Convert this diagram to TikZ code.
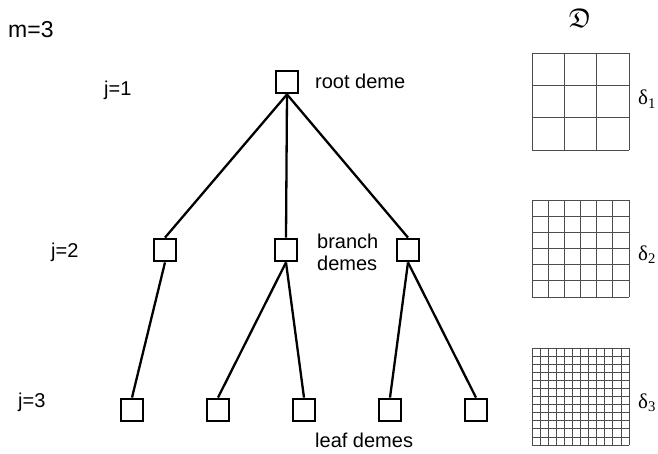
\documentclass[tikz,border=0pt]{standalone}
\usepackage{fontspec}
\usepackage{amssymb}
\setmainfont{Liberation Sans}
\newfontfamily\serifd{Liberation Serif}
\begin{document}
\begin{tikzpicture}[x=1pt,y=-1pt,
  deme/.style={draw,line width=2.3pt,minimum size=22.5pt,inner sep=0pt},
  edge/.style={line width=2.3pt},
  lbl/.style={inner sep=0pt,anchor=base west,font=\fontsize{20}{24}\selectfont},
  dlbl/.style={inner sep=0pt,anchor=base west,font=\serifd\fontsize{21}{24}\selectfont},
  gridline/.style={draw=black!70,line width=0.8pt}]
\useasboundingbox (0,0) rectangle (658,454);
% tree nodes
\node[deme] (root) at (287,82) {};
\node[deme] (b1) at (165,250) {};
\node[deme] (b2) at (286,250) {};
\node[deme] (b3) at (408,250) {};
\node[deme] (l1) at (132,410) {};
\node[deme] (l2) at (218,410) {};
\node[deme] (l3) at (304,410) {};
\node[deme] (l4) at (390,410) {};
\node[deme] (l5) at (476,410) {};
% edges
\draw[edge] (root.south) -- (b1.north);
\draw[edge] (root.south) -- (b2.north);
\draw[edge] (root.south) -- (b3.north);
\draw[edge] (b1.south) -- (l1.north);
\draw[edge] (b2.south) -- (l2.north);
\draw[edge] (b2.south) -- (l3.north);
\draw[edge] (b3.south) -- (l4.north);
\draw[edge] (b3.south) -- (l5.north);
% labels
\node[lbl,font=\fontsize{23}{26}\selectfont] (m) at (8,38) {m=3};
\node[lbl] (j1) at (104,96) {j=1};
\node[lbl] (j2) at (51,258) {j=2};
\node[lbl] (j3) at (18,407) {j=3};
\node[lbl] (rootlbl) at (315,89) {root deme};
\node[lbl] (br1) at (317,248) {branch};
\node[lbl] (br2) at (317,270) {demes};
\node[lbl] (leaflbl) at (315,447) {leaf demes};
% grids
\foreach \i in {0,...,3} {
  \draw[gridline] (532+32.33*\i,53) -- (532+32.33*\i,150);
  \draw[gridline] (532,53+32.33*\i) -- (629,53+32.33*\i);
}
\foreach \i in {0,...,6} {
  \draw[gridline] (532+16.17*\i,200) -- (532+16.17*\i,297);
  \draw[gridline] (532,200+16.17*\i) -- (629,200+16.17*\i);
}
\foreach \i in {0,...,12} {
  \draw[gridline,line width=0.7pt] (532+8.083*\i,348) -- (532+8.083*\i,445);
  \draw[gridline,line width=0.7pt] (532,348+8.083*\i) -- (629,348+8.083*\i);
}
% symbols
\node[inner sep=0pt] (D) at (580,18) {\fontsize{27}{30}\selectfont$\mathfrak{D}$};
\node[dlbl] (d1) at (638,105) {δ\textsubscript{1}};
\node[dlbl] (d2) at (638,260) {δ\textsubscript{2}};
\node[dlbl] (d3) at (638,408) {δ\textsubscript{3}};
\end{tikzpicture}
\end{document}
